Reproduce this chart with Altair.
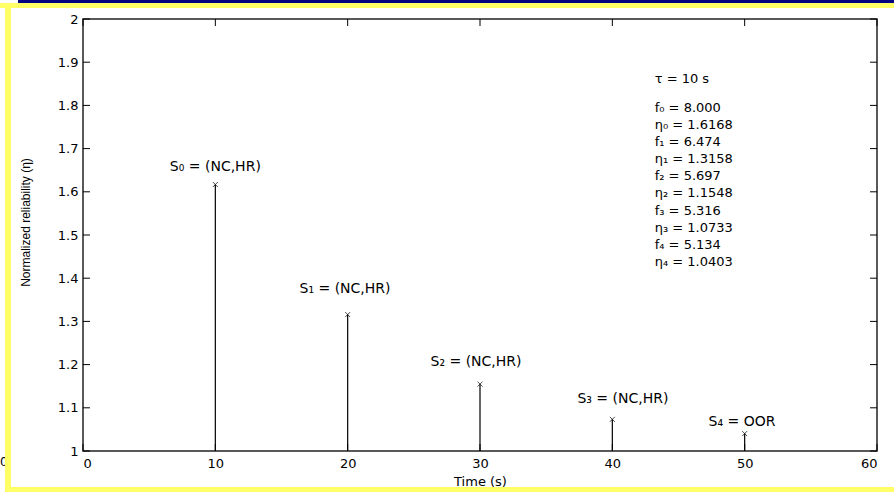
import altair as alt
import pandas as pd

# Stem data: sampling instants, normalized reliability, frequency, state
times = [10, 20, 30, 40, 50]
eta = [1.6168, 1.3158, 1.1548, 1.0733, 1.0403]
freq = [8.000, 6.474, 5.697, 5.316, 5.134]
states = ["(NC,HR)", "(NC,HR)", "(NC,HR)", "(NC,HR)", "OOR"]
tau = 10

# State label anchors (data coordinates)
label_x = [10.0, 19.8, 29.7, 40.8, 49.8]
label_y = [1.647, 1.366, 1.196, 1.112, 1.057]

x_ticks = [0, 10, 20, 30, 40, 50, 60]
y_ticks = [1.0, 1.1, 1.2, 1.3, 1.4, 1.5, 1.6, 1.7, 1.8, 1.9, 2.0]

W, H = 794, 432
FONT = "DejaVu Sans"
SUB = str.maketrans("0123456789", "₀₁₂₃₄₅₆₇₈₉")

df = pd.DataFrame({
    "t": times,
    "eta": eta,
    "label": [f"S{str(i).translate(SUB)} = {s}" for i, s in enumerate(states)],
    "lx": label_x,
    "ly": label_y,
})

block = []
for i, (f, e) in enumerate(zip(freq, eta)):
    k = str(i).translate(SUB)
    block.append(f"f{k} = {f:.3f}")
    block.append(f"η{k} = {e:.4f}")

xs = alt.Scale(domain=[0, 60], nice=False, zero=False)
ys = alt.Scale(domain=[1, 2], nice=False, zero=False)
one = alt.Data(values=[{"_": 0}])

base = alt.Chart(df)

# Axes carry only labels and titles; ticks are drawn inward below
x_enc = alt.X(
    "t:Q", scale=xs,
    axis=alt.Axis(values=x_ticks, ticks=False, tickSize=0, domain=False, grid=False,
                  labelPadding=6, labelFont=FONT, labelFontSize=13, labelColor="#000",
                  title="Time (s)", titleFont=FONT, titleFontSize=13,
                  titleFontWeight="normal", titleColor="#000", titlePadding=5),
)
y_enc = alt.Y(
    "eta:Q", scale=ys,
    axis=alt.Axis(values=y_ticks, format="~g", ticks=False, tickSize=0, domain=False,
                  grid=False, labelPadding=5, labelFont=FONT, labelFontSize=13,
                  labelColor="#000", labelFlush=False,
                  title="Normalized reliability (η)", titleFont="Liberation Sans",
                  titleFontSize=12, titleFontWeight="normal", titleColor="#000",
                  titleAngle=270, titleAlign="center", titleBaseline="middle",
                  titleX=-58, titleY=203),
)

stems = base.mark_rule(color="#000", strokeWidth=1.2).encode(
    x=x_enc, y=y_enc, y2=alt.datum(1)
)

markers = base.mark_point(
    shape="M-1,-1L1,1M-1,1L1,-1", size=25, filled=False, color="#000", strokeWidth=1
).encode(x=alt.X("t:Q", scale=xs), y=alt.Y("eta:Q", scale=ys))

labels = base.mark_text(
    font=FONT, fontSize=14, color="#000", align="center", baseline="alphabetic"
).encode(x=alt.X("lx:Q", scale=xs), y=alt.Y("ly:Q", scale=ys), text="label:N")

tau_text = alt.Chart(one).mark_text(
    font=FONT, fontSize=13, color="#000", align="left", baseline="alphabetic",
    text=f"τ = {tau} s",
).encode(x=alt.datum(43.2, scale=xs), y=alt.datum(1.851, scale=ys))

block_text = alt.Chart(one).mark_text(
    font=FONT, fontSize=13, color="#000", align="left", baseline="alphabetic",
    lineHeight=17.04, text=block,
).encode(x=alt.datum(43.2, scale=xs), y=alt.datum(1.784, scale=ys))

# Inward ticks on all four sides of the box
xt = pd.DataFrame({"v": x_ticks})
yt = pd.DataFrame({"v": y_ticks})
tick_style = dict(color="#000", strokeWidth=1)
tick_b = alt.Chart(xt).mark_rule(**tick_style).encode(
    x=alt.X("v:Q", scale=xs), y=alt.value(H - 7), y2=alt.value(H))
tick_t = alt.Chart(xt).mark_rule(**tick_style).encode(
    x=alt.X("v:Q", scale=xs), y=alt.value(0), y2=alt.value(7))
tick_l = alt.Chart(yt).mark_rule(**tick_style).encode(
    y=alt.Y("v:Q", scale=ys), x=alt.value(0), x2=alt.value(7))
tick_r = alt.Chart(yt).mark_rule(**tick_style).encode(
    y=alt.Y("v:Q", scale=ys), x=alt.value(W - 7), x2=alt.value(W))

# Slide frame around the figure
def band(color, x0, x1, y0, y1):
    return alt.Chart(one).mark_rect(color=color).encode(
        x=alt.value(x0), x2=alt.value(x1), y=alt.value(y0), y2=alt.value(y1))

YEL = "#FFFF66"
frame = [
    band("#000080", -65, 811, -19, -16),
    band(YEL, -83, 811, -16, -11),
    band(YEL, -78, -72, -16, 473),
    band(YEL, -78, 811, 468, 473),
]

# Leftover tick label at the far left edge of the slide, partly under the frame
stray = alt.Chart(one).mark_text(
    font=FONT, fontSize=12, color="#000", align="left", baseline="top", text="0"
).encode(x=alt.value(-83), y=alt.value(H + 6))

chart = alt.layer(
    stray, *frame, stems, markers, labels, tau_text, block_text,
    tick_b, tick_t, tick_l, tick_r,
).properties(
    width=W, height=H,
    autosize=alt.AutoSizeParams(type="none"),
    padding={"left": 83, "top": 19, "right": 17, "bottom": 41},
    background="white",
).configure_view(
    stroke="#222", strokeWidth=1.5, fill="white"
)

chart.save("out.html", embed_options={"renderer": "svg", "actions": False})
